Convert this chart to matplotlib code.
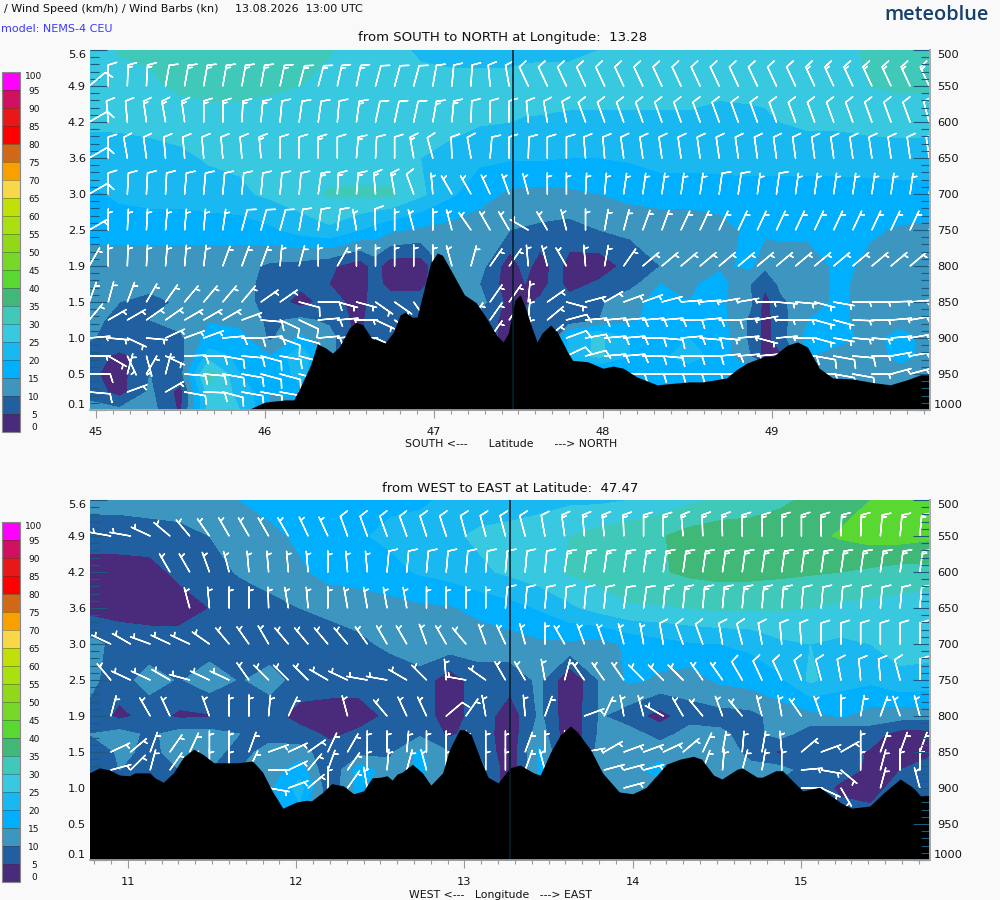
import numpy as np
import matplotlib
matplotlib.use('Agg')
import matplotlib.pyplot as plt
from matplotlib.ticker import FixedLocator

# wind speed classes (km/h), bottom of the colour bar first
levels = list(range(0, 105, 5))
band_colors = ['#4a2a7a', '#2060a0', '#3c96c0', '#00b0ff', '#1ab8f0', '#38c8e0', '#40c8b8',
               '#40b878', '#58d830', '#78d828', '#90d818', '#a8e010', '#c0e008', '#f8d848',
               '#f8a000', '#d06818', '#ff0000', '#e81818', '#d01060', '#ff00ff']

pressure_ticks = [500, 550, 600, 650, 700, 750, 800, 850, 900, 950, 1000]
height_labels = ['5.6', '4.9', '4.2', '3.6', '3.0', '2.5', '1.9', '1.5', '1.0', '0.5', '0.1']

# ---- top section, south to north ----
lat_grid = [44.96, 45.14, 45.32, 45.50, 45.67, 45.85, 46.03, 46.21, 46.38, 46.56, 46.65, 46.74, 46.92, 47.09, 47.27, 47.45, 47.54,
            47.63, 47.72, 47.80, 47.98, 48.16, 48.34, 48.51, 48.69, 48.87, 48.96, 49.05, 49.22, 49.40, 49.58, 49.76, 49.93]
press_a = [500, 550, 600, 650, 700, 750, 800, 825, 850, 875, 900, 925, 950, 975, 1000]
speed_a = [
    [27, 30.5, 31, 32, 33, 33, 33, 32, 30.5, 27, 26.5, 26, 24.5, 24, 24, 24, 24, 24, 24, 24, 25, 26, 27, 27, 27, 27, 27, 27, 27, 28, 31, 32, 32],
    [27, 27.5, 29, 31, 32, 32, 31, 30, 28, 27, 26.7, 26.5, 26, 26, 26, 26, 26.5, 27, 27, 27, 27, 27, 27, 27, 26, 26, 26.5, 27, 28, 28, 30, 31, 31],
    [26, 26, 26.5, 27, 27, 27, 27, 27, 27, 27, 27, 27, 26.5, 26, 25.5, 25, 24.7, 24.5, 24.2, 24, 24, 24, 24, 24, 23.5, 24, 24, 25, 26, 26, 26.5, 26.5, 26.5],
    [22, 22.5, 23, 24, 25.5, 26, 26.5, 27, 27.5, 27, 26.5, 26, 25, 24, 21, 20.5, 20.5, 20.5, 20.2, 20, 20, 20.5, 22, 22, 22, 22, 22, 22, 22, 22, 22.5, 23, 23],
    [19, 21, 22, 22, 23, 24, 26, 28, 30.5, 31, 31, 31, 26, 21, 17, 14, 13.7, 13.5, 13.7, 14, 15, 16.5, 17, 17, 17.5, 18, 18, 18, 18, 18, 18, 18, 18],
    [17, 17, 17, 17, 17, 17, 19, 22, 24, 20, 18, 16, 14, 13, 12, 10, 9.5, 9, 8.5, 8, 10, 11, 12, 12, 13, 16, 16, 16, 16, 16, 15.5, 14.5, 14],
    [12, 12, 12, 12, 12, 12, 9, 8, 6, 2, 7, 2, 2, 12, 12, 2, 7, 2, 7, 3, 2, 7, 10, 13, 14, 16, 11, 13, 13, 16, 14, 13, 13],
    [12, 12, 12, 12, 12, 12, 8, 6, 5, 2, 7, 3, 3, 12, 10, 2, 5, 3, 7, 3, 6, 8, 15, 14, 17, 10, 6, 11, 13, 16, 13, 13, 13],
    [11, 10, 8, 11, 12, 12, 8, 3, 7, 3, 7, 8, 8, 10, 12, 3, 4, 6, 7, 7, 9, 14, 16, 15, 16, 11, 3, 9, 13, 16, 13, 13, 13],
    [12, 8, 10, 12, 14.5, 13, 9, 11, 9, 3, 9, 9, 10, 10, 8, 3, 8, 8, 7, 6, 10, 14, 17, 18, 17, 9, 3, 8, 15, 16, 13, 13, 13],
    [10.5, 8, 7, 9, 17, 17, 9, 16, 12, 3, 9, 9, 10, 10, 8, 3, 8, 8, 9, 22, 26, 20, 18, 20, 18, 9, 3, 8, 17, 17, 13, 17, 13],
    [7, 4, 7, 8, 22, 19, 15, 24, 12, 3, 9, 9, 10, 10, 8, 3, 8, 8, 9, 22, 26, 20, 19, 22, 18, 10, 3, 4, 15, 12, 12, 17, 13],
    [6, 3, 10, 8, 33, 20, 15, 22] + [12]*12 + [12, 18, 19, 17, 17, 17, 17, 12, 12, 12, 12, 12, 12],
    [8, 3, 11, 3, 28, 24, 15, 18] + [12]*25,
    [12, 11, 12, 4, 27, 25, 15] + [12]*26,
]
ground_lat = [44.96, 45.91, 46.00, 46.12, 46.17, 46.21, 46.27, 46.31, 46.36, 46.40, 46.44, 46.50, 46.54, 46.58, 46.63,
              46.71, 46.76, 46.80, 46.83, 46.87, 46.90, 46.93, 46.98, 47.02, 47.05, 47.11, 47.18, 47.25, 47.31, 47.37,
              47.41, 47.44, 47.48, 47.51, 47.54, 47.58, 47.61, 47.64, 47.69, 47.73, 47.79, 47.82, 47.91, 48.00, 48.06,
              48.12, 48.20, 48.32, 48.46, 48.51, 48.59, 48.73, 48.79, 48.85, 48.95, 49.01, 49.09, 49.15, 49.21, 49.28,
              49.36, 49.48, 49.60, 49.70, 49.80, 49.88, 49.93]
ground_a = [1000, 998.6, 989, 986, 986, 968, 937.5, 908, 914, 921, 912.5, 886, 878, 882, 900,
            907, 892, 868, 864, 871, 871, 843, 796, 782, 785, 810, 840, 851, 872, 896,
            905.5, 893, 847, 840, 857, 886, 905.5, 893, 882, 892, 919, 931, 933, 942, 939,
            942, 954, 965, 962, 961, 961, 955.5, 944, 935, 926, 925, 910, 905.5, 912.5, 942,
            955.5, 957, 962, 965, 958, 951, 951]

barb_lat = np.linspace(44.96, 49.93, 45)
barb_press_a = [550, 600, 650, 700, 750, 800, 850, 875, 900, 925, 950, 975, 1000]
dir_a = [
    [50, 0, 2, 3] + [10]*6 + [12, 15, 15, 12, 12, 15, 15, 15, 10, 5, 3, 355, 350] + [335]*22,
    [60, 355, 355, 352, 350, 352, 0, 0, 3, 5, 5, 8, 8, 5, 8, 12, 12, 12, 10, 5, 2, 0, 0, 355, 350, 348] + [340]*18 + [345],
    [60, 0, 350, 352] + [355]*6 + [0, 0, 0, 0, 5, 3, 0, 350, 345, 358, 350, 5, 0, 2] + [0, 0, 355, 355] + [352]*17,
    [60, 0, 3, 3, 3, 5, 5, 5, 5, 5, 5, 5, 8, 3, 5, 355, 350, 340, 355, 330, 330, 335, 340, 345, 0, 0, 3, 5, 8, 8, 8] + [8]*14,
    [60, 0, 3, 3, 5, 5, 5, 8, 15, 15, 15, 10, 8, 8, 350, 358, 0, 345, 0, 345, 325, 330, 330, 300, 330, 345, 0, 10, 15, 20, 20] + [25]*14,
    [30, 0, 2, 3, 5, 5, 7, 20, 20, 20, 5, 15, 0, 30, 0, 0, 0, 0, 0, 345, 15, 35, 35, 355, 345, 330, 355, 10, 35, 50, 50] + [50]*14,
    [20, 15, 20, 30, 35, 40, 40, 40, 40, 55, 55, 105, 90, 105, 105, 125, 125, 145, 145, 145, 145, 35, 35, 5, 55, 105, 75, 60, 70, 70, 75, 85, 85, 80, 80, 90, 95, 95, 105, 100, 90, 90, 88, 85, 80],
    [40, 60, 60, 55, 55, 60, 60, 60, 70, 95, 115, 115, 85, 85, 90, 115, 125, 125, 35, 35, 35, 35, 35, 5, 50, 75, 85, 85, 85, 85, 85, 90, 85, 90, 85, 80, 90, 90, 105, 105, 92, 90, 85, 80, 80],
    [85, 95, 115, 95, 65, 70, 70, 85, 90, 85, 110, 105, 85, 85, 90, 115, 125, 125, 35, 35, 35, 35, 35, 5, 50, 70, 80, 85, 85, 90, 95, 85, 95, 95, 85, 105, 85, 90, 105, 100, 95, 95, 85, 80, 80],
    [90, 120, 155, 165, 115, 88, 90, 100, 95, 105, 100, 105, 105, 110, 110] + [110]*10 + [65, 75, 85, 85, 90, 95, 90, 90, 85, 85, 85, 85, 90, 100, 100, 95, 90, 80, 80, 80],
    [90, 0, 15, 30, 15, 95, 95, 100, 100, 105, 105] + [105]*14 + [100, 105] + [90]*12 + [100, 100, 90, 75, 75, 75],
    [95, 0, 70, 0, 60, 100, 92, 105, 100, 100, 100] + [100]*14 + [70, 80] + [85]*18,
    [125, 125, 125] + [0]*42,
]
knots_a = [
    [10, 10, 15, 15, 10] + [15]*10 + [10]*23 + [15]*7,
    [10]*3 + [15]*7 + [10]*4 + [15] + [10]*3 + [15]*2 + [10]*25,
    [10]*9 + [15, 10, 10, 15, 10, 15, 10, 10, 15] + [10]*27,
    [10]*12 + [15]*5 + [10] + [5]*15 + [10, 10, 5, 10] + [5]*8,
    [5]*8 + [10]*6 + [5, 10] + [5]*29,
    [5]*45,
    [5]*11 + [10, 10] + [5]*32,
    [5]*9 + [10]*4 + [5]*12 + [10]*9 + [5]*11,
    [5]*7 + [10]*6 + [5]*12 + [10]*8 + [5]*12,
    [5]*5 + [10]*36 + [5]*4,
    [10, 0, 5, 5, 5] + [10]*36 + [5]*4,
    [10, 0, 5, 0, 5] + [10]*36 + [5]*4,
    [5, 5, 5] + [0]*42,
]

# ---- bottom section, west to east ----
lon_grid = np.linspace(10.77, 15.77, 29)
press_b = [500, 550, 600, 650, 700, 750, 800, 825, 850, 875, 900, 1000]
speed_b = [
    [12, 12, 13, 13, 14, 15, 17, 18, 18, 18, 19, 19, 21, 22, 22, 23, 24, 24, 25, 27, 29, 31, 32, 34, 36, 38, 40, 43, 43],
    [7, 7, 7, 8, 10, 12, 13.5, 16, 18, 19.5, 21, 22.5, 24, 26, 27, 28, 30, 32, 33.5, 34.5, 37, 38, 38, 38, 38.5, 40.5, 42, 42, 41],
    [3, 3, 3.5, 6, 8, 10.5, 12, 14, 17, 17.5, 18.5, 20.5, 22, 24, 26, 28, 30.5, 32, 33, 34.5, 36, 36.5, 36.5, 36, 35.5, 35, 34, 33, 33],
    [3, 3, 3, 3, 5, 7, 8.5, 10, 11, 12, 13, 14, 14.5, 16.5, 18, 20.5, 24, 27, 29.5, 29.5, 30, 31, 30.5, 30.5, 30, 29, 28.5, 28, 27],
    [12, 8, 7, 7, 7, 7, 7, 7, 8, 9, 11, 13, 13, 12, 13, 14, 14, 13, 16, 18, 19.5, 20, 21, 24, 25, 24, 25, 26.5, 27],
    [11, 8, 12, 9.5, 13, 9.5, 12, 8, 7, 7, 7, 8, 2, 8, 7, 11, 0.5, 10.5, 16, 14, 12.5, 16, 17, 19, 26, 22, 21, 24, 23],
    [9, 3.5, 7, 4, 4.5, 8, 7, 3, 3, 3, 6, 8, 2, 8, 2, 11, 1, 10.5, 7, 3, 8, 8, 8.5, 12, 13, 15.5, 13, 12, 12],
    [10, 12, 9, 12, 12, 10, 9, 7, 4, 6, 9, 9, 4, 8, 1.5, 13, 0.5, 11, 12, 8, 12, 11, 8, 12, 7, 5, 7, 3, 3],
    [5, 11, 9, 11.5, 11, 9, 11, 12, 7, 8, 9, 16, 10, 9, 1.5, 16, 1, 12, 12.5, 13, 12, 12, 9, 4, 8, 7, 4.5, 5, 3],
    [10, 10, 10, 10, 10, 10, 12, 18, 5, 18, 12, 16, 12, 12, 1.5, 16, 10, 12, 13, 17, 12, 13, 11, 12, 7, 7, 4, 5, 10],
    [10, 10, 10, 10, 10, 10, 14, 22, 6, 17, 11, 13, 10, 12, 1.5, 17, 10, 12, 12, 13, 12, 12, 12, 8, 8, 4, 3, 7, 7],
    [12]*29,
]
ground_lon = [10.77, 10.83, 10.89, 10.95, 11.01, 11.04, 11.13, 11.16, 11.21, 11.27, 11.33, 11.39, 11.45, 11.51, 11.65,
              11.74, 11.80, 11.86, 11.92, 12.00, 12.06, 12.09, 12.16, 12.21, 12.28, 12.34, 12.40, 12.45, 12.50, 12.54,
              12.57, 12.60, 12.63, 12.69, 12.75, 12.80, 12.87, 12.91, 12.97, 13.00, 13.04, 13.09, 13.14, 13.20, 13.27,
              13.33, 13.41, 13.45, 13.51, 13.57, 13.63, 13.67, 13.75, 13.82, 13.92, 14.00, 14.08, 14.16, 14.20, 14.28,
              14.36, 14.41, 14.48, 14.53, 14.62, 14.65, 14.74, 14.77, 14.85, 14.89, 15.01, 15.11, 15.24, 15.30, 15.41,
              15.49, 15.59, 15.67, 15.71, 15.77]
ground_b = [879, 872, 875, 882, 883, 879, 879, 886, 892, 879, 857, 846, 854, 865, 865,
            862.5, 878, 905.5, 928, 919.5, 917, 918, 905.5, 894, 897, 908, 904, 886, 885, 883,
            889, 880.5, 878, 867, 879, 896, 879, 847, 819, 819, 826, 857, 885, 893, 872,
            868, 879, 882, 851, 826, 814, 822, 847, 879, 905.5, 908, 899, 878, 867, 860,
            856, 860, 882, 887.5, 874, 872, 885, 885, 876, 876, 904, 899, 921, 928, 925,
            907, 887.5, 900, 911, 910]

barb_lon = 10.78 + 0.1173 * np.arange(43)
barb_press_b = [550, 600, 650, 700, 750, 800, 850, 875, 900]
dir_b = [
    [0, 280, 280, 295, 310, 320, 325, 330, 330, 330, 330, 335, 335] + [340, 340, 340, 340, 342, 342, 345, 345, 345, 345, 350, 352, 355, 355, 358, 0, 0] + [355, 358, 358, 0, 0, 0, 0, 0, 2, 2, 5, 5, 5],
    [0, 0, 0, 0, 330, 330, 340, 345, 355, 355, 355, 355, 0] + [355, 355] + [5]*9 + [8]*19,
    [0]*5 + [345, 355, 0, 0, 358, 350, 355, 0] + [350, 350, 350, 350, 0, 0, 0, 0, 5, 5, 5, 5, 5, 5, 8, 8, 5] + [5]*13,
    [0, 295, 300, 290, 295, 295, 305, 320, 325, 330, 320, 320, 320, 320, 325, 330, 330, 340, 330, 320, 340, 335, 345, 0, 330, 340, 340, 345, 350, 350, 340, 340, 350, 345, 350, 355, 355, 0, 0, 0, 0, 0, 0],
    [0, 320, 295, 295, 300, 285, 295, 295, 325, 315, 315, 315, 300, 295, 280, 280, 300, 315, 355, 280, 305, 330, 330, 350, 15, 325, 325, 325, 315, 315, 315, 325, 325, 330, 335, 335, 340, 345, 350, 355, 355, 345, 0],
    [0, 15, 0, 330, 335, 0, 340, 0, 0, 5, 25, 0, 0, 345, 0, 320, 335, 335, 50, 35, 350, 0, 355, 20, 0, 70, 25, 350, 345, 300, 330, 320, 340, 320, 345, 350, 325, 340, 0, 10, 20, 340, 345],
    [0, 65, 50, 20, 35, 25, 0, 0, 20, 70, 65, 55, 25, 30, 0, 0, 5, 0, 0, 0, 0, 0, 20, 0, 0, 80, 60, 70, 70, 65, 50, 25, 10, 5, 10, 355, 50, 70, 60, 0, 20, 20, 20],
    [0, 75, 45, 15, 35, 25, 0, 0, 25, 90, 65, 40, 20, 35, 0, 5, 15, 345, 0, 0, 0, 0, 20, 345, 0, 0, 75, 75, 75, 80, 0, 20, 5, 15, 10, 0, 85, 100, 130, 0, 15, 0, 0],
    [0]*9 + [100, 70, 50, 0, 35, 350] + [0]*12 + [75] + [0]*8 + [90, 115, 150, 0, 15, 0, 345],
]
knots_b = [
    [0] + [5]*12 + [10]*11 + [15]*19,
    [0]*4 + [5]*11 + [10]*9 + [15]*19,
    [0]*5 + [5]*16 + [10]*8 + [15]*7 + [10]*7,
    [0] + [5]*28 + [10]*14,
    [0] + [5]*32 + [10]*10,
    [0, 5, 0, 5, 5, 0, 5, 5, 5, 5, 5, 0, 0, 5, 0, 5, 5, 5, 10, 5, 5, 0, 5, 5, 0] + [5]*18,
    [0] + [5]*42,
    [0] + [5]*29 + [0] + [5]*12,
    [0]*9 + [5]*6 + [0]*12 + [5] + [0]*8 + [5, 5, 5, 0, 5, 0, 5],
]

fig = plt.figure(figsize=(10, 9), dpi=100, facecolor='#f9f9f9')


def panel_axes(top_px):
    return fig.add_axes([90 / 1000, 1 - (top_px + 360) / 900, 840 / 1000, 360 / 900])


def draw_section(ax, grid_x, grid_p, speed, ground_x, ground_p, bx, bp, bdir, bknots, cut, xlim, major, minor):
    ax.contourf(grid_x, grid_p, np.array(speed), levels=levels, colors=band_colors)

    # barbs point at where the wind comes from
    xx, pp = np.meshgrid(bx, bp)
    d = np.radians(np.array(bdir, dtype=float))
    s = np.array(bknots, dtype=float)
    keep = s > 0
    ax.barbs(xx[keep], pp[keep], -s[keep] * np.sin(d[keep]), -s[keep] * np.cos(d[keep]),
             length=5.5, linewidth=1.0, color='white', zorder=3, clip_on=True)

    ax.fill_between(ground_x, ground_p, 1000, color='black', lw=0, zorder=4)
    ax.axvline(cut, color='#05202c', lw=1.2, zorder=5)

    ax.set_xlim(*xlim)
    ax.set_ylim(1000, 500)
    ax.xaxis.set_major_locator(FixedLocator(major))
    ax.xaxis.set_minor_locator(FixedLocator(minor))
    ax.set_xticklabels([str(v) for v in major], fontsize=8.2, color='#111111')
    ax.tick_params(axis='x', which='major', length=6, width=0.8, color='#999999', pad=6.5)
    ax.tick_params(axis='x', which='minor', length=3, width=0.8, color='#999999')
    ax.set_yticks(pressure_ticks)
    ax.set_yticks(np.arange(500, 1001, 10), minor=True)
    ax.set_yticklabels(height_labels, fontsize=8.2, color='#111111')
    ax.tick_params(axis='y', which='major', direction='in', length=12, width=0.8, color='#1d5a80', pad=3)
    ax.tick_params(axis='y', which='minor', direction='in', length=6.5, width=0.8, color='#1d5a80')
    ax.get_yticklabels()[0].set_va('top')
    ax.get_yticklabels()[-1].set_va('bottom')

    right = ax.twinx()
    right.set_ylim(1000, 500)
    right.set_yticks(pressure_ticks)
    right.set_yticks(np.arange(500, 1001, 10), minor=True)
    right.set_yticklabels([str(v) for v in pressure_ticks], fontsize=8.2, color='#111111', ha='center')
    right.tick_params(axis='y', which='major', direction='in', length=12, width=0.8, color='#1d5a80', pad=13)
    right.tick_params(axis='y', which='minor', direction='in', length=6.5, width=0.8, color='#1d5a80')
    right.get_yticklabels()[0].set_va('top')
    right.get_yticklabels()[-1].set_va('bottom')

    for a in (ax, right):
        a.spines['top'].set_visible(False)
        a.spines['left'].set_visible(False)
        a.spines['right'].set_color('#aaaaaa')
        a.spines['right'].set_linewidth(1.4)
        a.spines['bottom'].set_color('#aaaaaa')
        a.spines['bottom'].set_linewidth(1.2)


def draw_colorbar(top_px, mappable):
    cax = fig.add_axes([2 / 1000, 1 - (top_px + 360) / 900, 18 / 1000, 360 / 900])
    cb = fig.colorbar(mappable, cax=cax, ticks=levels, drawedges=True)
    cb.outline.set_edgecolor('#888888')
    cb.outline.set_linewidth(0.8)
    cb.dividers.set_color('#333333')
    cb.dividers.set_alpha(0.45)
    cb.dividers.set_linewidth(0.6)
    cax.tick_params(length=0, pad=10, labelsize=6.5, labelcolor='#111111')
    labs = cax.get_yticklabels()
    labs[0].set_va('bottom')
    labs[-1].set_va('top')
    for lab in labs:
        lab.set_ha('center')


ax_a = panel_axes(50)
draw_section(ax_a, lat_grid, press_a, speed_a, ground_lat, ground_a, barb_lat, barb_press_a, dir_a, knots_a,
             47.465, (44.965, 49.935), [45, 46, 47, 48, 49], np.arange(45.0, 49.95, 0.1))
ax_b = panel_axes(500)
draw_section(ax_b, lon_grid, press_b, speed_b, ground_lon, ground_b, barb_lon, barb_press_b, dir_b, knots_b,
             13.27, (10.774, 15.767), [11, 12, 13, 14, 15], np.arange(10.8, 15.77, 0.1))

draw_colorbar(72, ax_a.collections[0])
draw_colorbar(522, ax_b.collections[0])


def put(x, y, txt, **kw):
    fig.text(x / 1000, 1 - y / 900, txt, va='center', **kw)


put(4, 9, '/ Wind Speed (km/h) / Wind Barbs (kn)', fontsize=8, color='#111111')
put(235, 9, '13.08.2026  13:00 UTC', fontsize=8, color='#111111')
put(1, 29, 'model: NEMS-4 CEU', fontsize=8, color='#3a3aff')
put(884, 15, 'meteoblue', fontsize=14.4, family='Open Sans', weight='semibold', color='#173f6b')
put(503, 37, 'from SOUTH to NORTH at Longitude:  13.28', fontsize=9.5, ha='center', color='#111111')
put(511, 444, 'SOUTH <---      Latitude      ---> NORTH', fontsize=7.85, ha='center', color='#111111')
put(510, 488, 'from WEST to EAST at Latitude:  47.47', fontsize=9.5, ha='center', color='#111111')
put(500, 895, 'WEST <---   Longitude   ---> EAST', fontsize=7.85, ha='center', color='#111111')

plt.savefig('out.png', dpi=100, facecolor=fig.get_facecolor())
